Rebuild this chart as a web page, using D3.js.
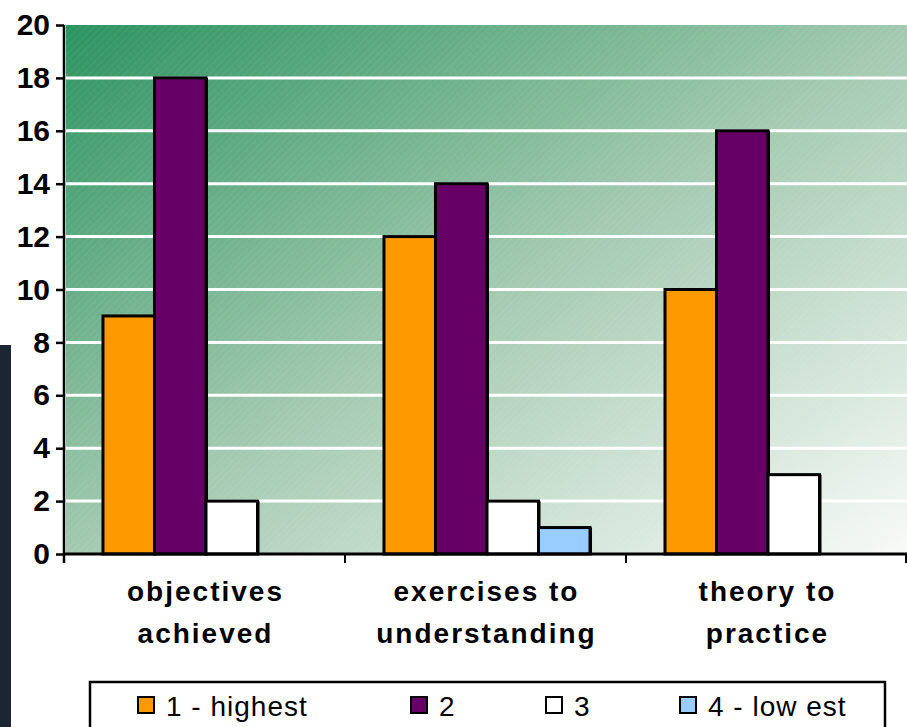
<!DOCTYPE html>
<html>
<head>
<meta charset="utf-8">
<script src="https://cdn.jsdelivr.net/npm/d3@7"></script>
<style>
  body { margin: 0; background: #fff; }
  svg { display: block; font-family: "Liberation Sans", Arial, sans-serif; }
</style>
</head>
<body>
<div id="chart"></div>
<script>
//Data
const categories = ["objectives achieved", "exercises to understanding", "theory to practice"];
const categoryLines = [["objectives", "achieved"], ["exercises to", "understanding"], ["theory to", "practice"]];
const seriesNames = ["1 - highest", "2", "3", "4 - low est"];
const highest = [9, 12, 10];
const second = [18, 14, 16];
const third = [2, 2, 3];
const lowest = [0, 1, 0];
const yTicks = [0, 2, 4, 6, 8, 10, 12, 14, 16, 18, 20];
const colors = ["#ff9900", "#660066", "#ffffff", "#99ccff"];

const seriesValues = [highest, second, third, lowest];

//Dims
const width = 907;
const height = 727;
const plot = { left: 64, right: 907, top: 25, bottom: 554 };

const svg = d3.select("#chart")
    .append("svg")
    .attr("width", width)
    .attr("height", height);

const defs = svg.append("defs");

//background gradient
const grad = defs.append("linearGradient")
    .attr("id", "bg")
    .attr("x1", 0).attr("y1", 0)
    .attr("x2", 1).attr("y2", 1);
grad.append("stop").attr("offset", "0%").attr("stop-color", "#2c9360");
grad.append("stop").attr("offset", "50%").attr("stop-color", "#a2c9b0");
grad.append("stop").attr("offset", "100%").attr("stop-color", "#f8faf8");

//faint hatch texture
const pat = defs.append("pattern")
    .attr("id", "hatch")
    .attr("width", 5).attr("height", 5)
    .attr("patternUnits", "userSpaceOnUse")
    .attr("patternTransform", "rotate(45)");
pat.append("line")
    .attr("x1", 0).attr("y1", 0).attr("x2", 0).attr("y2", 5)
    .attr("stroke", "#ffffff")
    .attr("stroke-opacity", 0.12)
    .attr("stroke-width", 1);

//dark strip on left edge
svg.append("rect")
    .attr("x", 0).attr("y", 345)
    .attr("width", 11).attr("height", height - 345)
    .attr("fill", "#1c2532");

//Scaling
const x0 = d3.scaleBand()
    .domain(categories)
    .range([plot.left, plot.right])
    .padding(0);

const x1 = d3.scaleBand()
    .domain(seriesNames)
    .range([0, x0.bandwidth()])
    .paddingInner(0)
    .paddingOuter(0.728)
    .align(0.52);

const y = d3.scaleLinear()
    .domain([0, 20])
    .range([plot.bottom, plot.top]);

//plot area
svg.append("rect")
    .attr("x", plot.left + 2).attr("y", plot.top)
    .attr("width", plot.right - plot.left - 2)
    .attr("height", plot.bottom - plot.top)
    .attr("fill", "url(#bg)");
svg.append("rect")
    .attr("x", plot.left + 2).attr("y", plot.top)
    .attr("width", plot.right - plot.left - 2)
    .attr("height", plot.bottom - plot.top)
    .attr("fill", "url(#hatch)");

//gridlines
svg.append("g")
    .selectAll("line")
    .data(yTicks.filter(d => d > 0 && d < 20))
    .enter()
    .append("line")
    .attr("x1", plot.left + 2)
    .attr("x2", plot.right)
    .attr("y1", d => y(d))
    .attr("y2", d => y(d))
    .attr("stroke", "#ffffff")
    .attr("stroke-width", 3);

//bars
const barData = [];
categories.forEach((c, i) => {
    seriesNames.forEach((s, j) => {
        barData.push({ cat: c, series: s, value: seriesValues[j][i], color: colors[j] });
    });
});
const shown = barData.filter(d => d.value > 0);

const bars = svg.append("g");
//shadow on the right side
bars.selectAll("rect.shadow")
    .data(shown)
    .enter()
    .append("rect")
    .attr("class", "shadow")
    .attr("x", d => x0(d.cat) + x1(d.series) + 2)
    .attr("y", d => y(d.value))
    .attr("width", x1.bandwidth())
    .attr("height", d => y(0) - y(d.value))
    .attr("fill", "#000");
bars.selectAll("rect.bar")
    .data(shown)
    .enter()
    .append("rect")
    .attr("class", "bar")
    .attr("x", d => x0(d.cat) + x1(d.series))
    .attr("y", d => y(d.value))
    .attr("width", x1.bandwidth())
    .attr("height", d => y(0) - y(d.value))
    .attr("fill", d => d.color)
    .attr("stroke", "#000")
    .attr("stroke-width", 3);

//y axis
const yAxis = svg.append("g")
    .attr("transform", `translate(${plot.left},0)`)
    .call(d3.axisLeft(y).tickValues(yTicks).tickSize(8).tickSizeOuter(0).tickPadding(6));
yAxis.select(".domain").remove();
yAxis.selectAll(".tick line").attr("stroke", "#000").attr("stroke-width", 2.5);
yAxis.selectAll(".tick text")
    .attr("font-size", 30)
    .attr("font-weight", "bold")
    .attr("fill", "#000")
    .attr("font-family", "'Liberation Sans', Arial, sans-serif");
svg.append("line")
    .attr("x1", plot.left).attr("x2", plot.left)
    .attr("y1", plot.top).attr("y2", plot.bottom + 9)
    .attr("stroke", "#000").attr("stroke-width", 2.5);

//x axis
svg.append("line")
    .attr("x1", plot.left).attr("x2", plot.right)
    .attr("y1", plot.bottom).attr("y2", plot.bottom)
    .attr("stroke", "#000").attr("stroke-width", 3);
svg.append("g")
    .selectAll("line")
    .data(categories.slice(1).map(c => x0(c)).concat([plot.right - 1]))
    .enter()
    .append("line")
    .attr("x1", d => d).attr("x2", d => d)
    .attr("y1", plot.bottom).attr("y2", plot.bottom + 9)
    .attr("stroke", "#000").attr("stroke-width", 2);

//category labels
const labels = svg.append("g");
categories.forEach((c, i) => {
    labels.selectAll(null)
        .data(categoryLines[i])
        .enter()
        .append("text")
        .text(d => d)
        .attr("x", x0(c) + x0.bandwidth() / 2 + 1)
        .attr("y", (d, k) => 601 + k * 42)
        .attr("text-anchor", "middle")
        .attr("font-size", 28)
        .attr("font-weight", "bold")
        .attr("letter-spacing", 2)
        .attr("fill", "#000");
});

//legend
svg.append("rect")
    .attr("x", 90).attr("y", 682)
    .attr("width", 795).attr("height", 60)
    .attr("fill", "#fff")
    .attr("stroke", "#000").attr("stroke-width", 2.5);

const legendX = d3.scaleOrdinal()
    .domain(seriesNames)
    .range([138, 411, 546, 680]);

const legend = svg.append("g")
    .selectAll("g")
    .data(seriesNames)
    .enter()
    .append("g")
    .attr("transform", d => `translate(${legendX(d)},697)`);
legend.append("rect")
    .attr("width", 16).attr("height", 16)
    .attr("fill", (d, i) => colors[i])
    .attr("stroke", "#000").attr("stroke-width", 2);
legend.append("text")
    .text(d => d)
    .attr("x", 28)
    .attr("y", 19)
    .attr("font-size", 28)
    .attr("letter-spacing", 1)
    .attr("fill", "#000");
</script>
</body>
</html>
